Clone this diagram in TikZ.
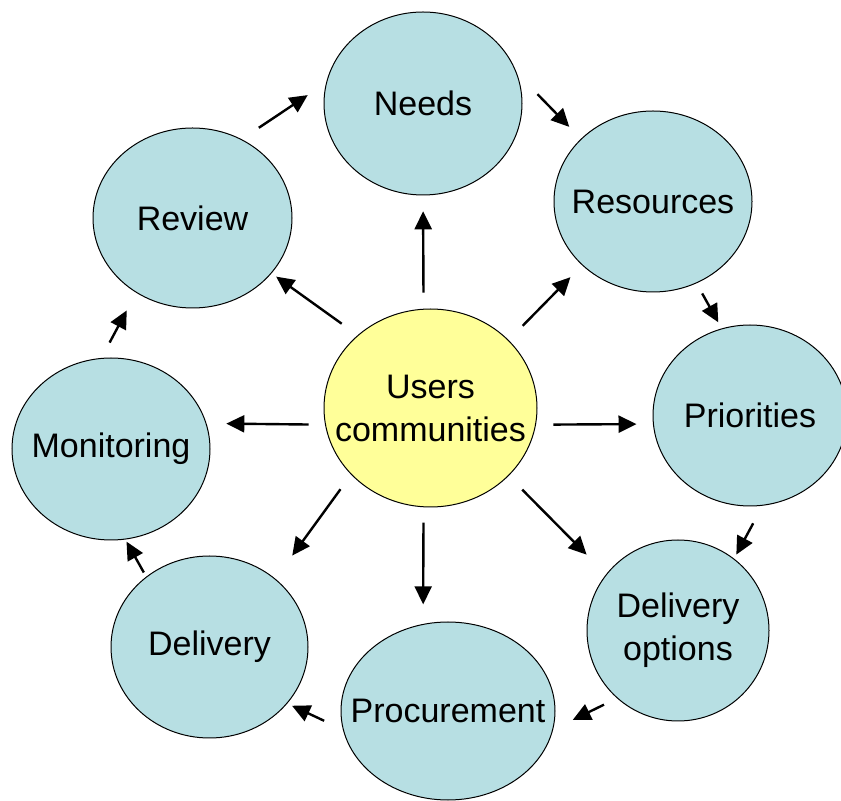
\documentclass[tikz,border=0pt]{standalone}
\usepackage{fontspec}
\setmainfont{Liberation Sans}
\usepackage{tikz}
\usetikzlibrary{shapes.geometric, arrows.meta}

\definecolor{bubblefill}{RGB}{183,223,227}
\definecolor{hubfill}{RGB}{255,255,153}

\tikzset{
  bubble/.style={ellipse, draw=black, line width=0.5pt, fill=bubblefill,
    inner xsep=-20pt, align=center, font=\fontsize{17}{21.5}\selectfont},
  hub/.style={bubble, fill=hubfill},
  flow/.style={-{Triangle[length=9pt, width=8.5pt]}, line width=1.2pt}
}

\begin{document}
\begin{tikzpicture}[x=0.5pt, y=-0.5pt]
    \useasboundingbox (0, 0) rectangle (841, 801);

    % draw the ring of steps
    \node[bubble, minimum width=99pt, minimum height=91.5pt] (needs) at (423, 103.5) {Needs};
    \node[bubble, minimum width=99pt, minimum height=90.5pt] (resources) at (653, 201.5) {Resources};
    \node[bubble, minimum width=97pt, minimum height=90.5pt] (priorities) at (750, 415.5) {Priorities};
    \node[bubble, minimum width=91pt, minimum height=90.5pt] (options) at (678, 630.5) {Delivery\\options};
    \node[bubble, minimum width=107pt, minimum height=89pt] (procurement) at (448, 711) {Procurement};
    \node[bubble, minimum width=98.5pt, minimum height=91pt] (delivery) at (209.5, 647) {Delivery};
    \node[bubble, minimum width=99pt, minimum height=91pt] (monitoring) at (111, 449) {Monitoring};
    \node[bubble, minimum width=99.5pt, minimum height=90pt] (review) at (192.5, 218) {Review};

    % draw the centre
    \node[hub, minimum width=106.5pt, minimum height=99pt] (users) at (430.5, 408) {Users\\communities};

    % draw arrows out of the centre
    \draw[flow, shorten <=8.1pt, shorten >=7.9pt] (users.94) -- (needs.270);
    \draw[flow, shorten <=10pt, shorten >=8.3pt] (users.41) -- (resources.222);
    \draw[flow, shorten <=8.7pt, shorten >=8.2pt] (users.-9) -- (priorities.185);
    \draw[flow, shorten <=9.6pt, shorten >=13.8pt] (users.-41) -- (options.142);
    \draw[flow, shorten <=7.7pt, shorten >=9.8pt] (users.266) -- (procurement.106);
    \draw[flow, shorten <=9pt, shorten >=14.3pt] (users.220) -- (delivery.46);
    \draw[flow, shorten <=8.2pt, shorten >=9.9pt] (users.189) -- (monitoring.15);
    \draw[flow, shorten <=9.8pt, shorten >=2.8pt] (users.135) -- (review.325);

    % draw arrows round the ring
    \draw[flow, shorten <=14.8pt, shorten >=8.3pt] (needs.18) -- (resources.139);
    \draw[flow, shorten <=5.8pt, shorten >=3.5pt] (resources.298) -- (priorities.108);
    \draw[flow, shorten <=10pt, shorten >=2.3pt] (priorities.278) -- (options.52);
    \draw[flow, shorten <=7.2pt, shorten >=10.9pt] (options.228) -- (procurement.350);
    \draw[flow, shorten <=10.3pt, shorten >=2.6pt] (procurement.190) -- (delivery.324);
    \draw[flow, shorten <=2.4pt, shorten >=1.2pt] (delivery.132) -- (monitoring.279);
    \draw[flow, shorten <=8.7pt, shorten >=10pt] (monitoring.96) -- (review.233);
    \draw[flow, shorten <=10.3pt, shorten >=11pt] (review.58) -- (needs.168);

\end{tikzpicture}
\end{document}
